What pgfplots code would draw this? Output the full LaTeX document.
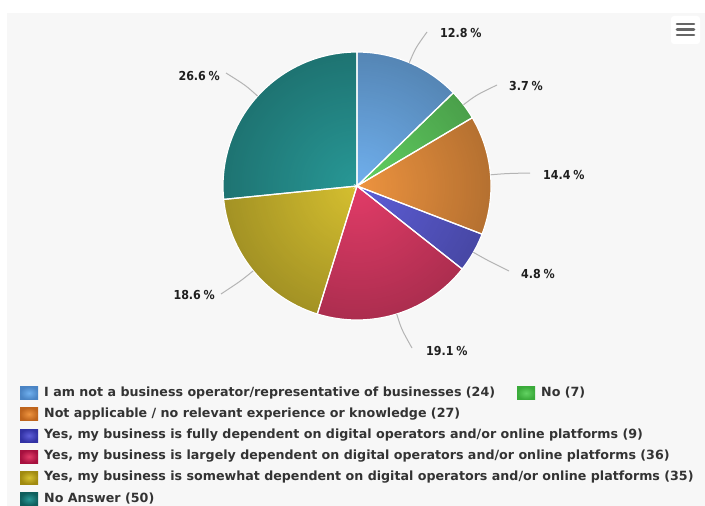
\documentclass[border=0pt]{standalone}
\usepackage{fontspec}
\setmainfont{DejaVu Sans}[BoldFont={DejaVu Sans Bold}]
\newfontfamily\lblfont{DejaVu Sans Condensed Bold}
\usepackage{pgfplots}
\usepackage{pgfplotstable}
\pgfplotsset{compat=1.18}
\usetikzlibrary{fadings}

\definecolor{panel}{HTML}{F7F7F7}
\definecolor{txt}{HTML}{333333}
\definecolor{conn}{HTML}{B4B4B4}
\definecolor{cA}{HTML}{70B0EE}\definecolor{dA}{HTML}{4A84C4}
\definecolor{cB}{HTML}{62D262}\definecolor{dB}{HTML}{3AAA3A}
\definecolor{cC}{HTML}{EE9440}\definecolor{dC}{HTML}{BE641C}
\definecolor{cD}{HTML}{5E5ED8}\definecolor{dD}{HTML}{3232A4}
\definecolor{cE}{HTML}{E23C68}\definecolor{dE}{HTML}{A6103E}
\definecolor{cF}{HTML}{D6C030}\definecolor{dF}{HTML}{A08A10}
\definecolor{cG}{HTML}{289896}\definecolor{dG}{HTML}{0F5E5C}

\tikzfading[name=pieedge, inner color=transparent!100, outer color=transparent!0]

\pgfplotstableread{
count
24
7
27
9
36
35
50
}\piedata

% total
\def\total{0}
\pgfplotsforeachungrouped \i in {0,...,6}{%
  \pgfplotstablegetelem{\i}{count}\of\piedata
  \pgfmathsetmacro\total{\total+\pgfplotsretval}}
% angles (start at 12 o'clock, clockwise)
\def\cum{0}
\pgfplotsforeachungrouped \i in {0,...,6}{%
  \pgfplotstablegetelem{\i}{count}\of\piedata
  \pgfmathsetmacro\aa{90-\cum/\total*360}
  \pgfmathsetmacro\newcum{\cum+\pgfplotsretval}
  \pgfmathsetmacro\bb{90-\newcum/\total*360}
  \pgfmathsetmacro\mm{(\aa+\bb)/2}
  \pgfmathsetmacro\pp{\pgfplotsretval/\total*100}
  \expandafter\xdef\csname sa\i\endcsname{\aa}
  \expandafter\xdef\csname sb\i\endcsname{\bb}
  \expandafter\xdef\csname sm\i\endcsname{\mm}
  \expandafter\xdef\csname pc\i\endcsname{\pp}
  \xdef\cum{\newcum}}

\def\cx{357}\def\cy{186}\def\rr{134}

\newcommand\pieslice[2]{%
  \addplot[fill=#2, draw=none, domain={\csname sb#1\endcsname}:{\csname sa#1\endcsname}, samples=80, variable=\t]
    ({\cx+\rr*cos(\t)},{\cy-\rr*sin(\t)}) -- (axis cs:\cx,\cy) -- cycle;}
\newcommand\pieborder[1]{%
  \addplot[draw=white, line width=1.2bp, domain={\csname sb#1\endcsname}:{\csname sa#1\endcsname}, samples=80, variable=\t]
    ({\cx+\rr*cos(\t)},{\cy-\rr*sin(\t)}) -- (axis cs:\cx,\cy) -- cycle;}
% label: index, end x, end y, anchor, text x, text y
\newcommand\pielabel[6]{%
  \pgfmathsetmacro\ex{\cx+\rr*cos(\csname sm#1\endcsname)}
  \pgfmathsetmacro\ey{\cy-\rr*sin(\csname sm#1\endcsname)}
  \pgfmathsetmacro\kx{\cx+(\rr+16)*cos(\csname sm#1\endcsname)}
  \pgfmathsetmacro\ky{\cy-(\rr+16)*sin(\csname sm#1\endcsname)}
  \edef\tmp{\noexpand\draw[conn, line width=1bp] (axis cs:\ex,\ey) .. controls (axis cs:\kx,\ky) .. (axis cs:#2,#3);}\tmp
  \edef\tmp{\noexpand\node[anchor=#4, inner sep=0pt, font=\noexpand\lblfont\noexpand\fontsize{12.4}{14}\noexpand\selectfont, text=black!88] at (axis cs:#5,#6)
    {\noexpand\pgfmathprintnumber[fixed,precision=1,fixed zerofill,assume math mode=true]{\csname pc#1\endcsname}\noexpand\hspace{0.22em}\noexpand\%};}\tmp}
\newcommand\legitem[5]{%
  \shade[inner color=#3, outer color=#4] (axis cs:#1-1,#2-6.5) rectangle (axis cs:#1+17,#2+6.5);
  \node[anchor=west, inner sep=0pt, text=txt, font=\bfseries\fontsize{12.7}{14}\selectfont] at (axis cs:#1+23,#2) {#5};}

\begin{document}
\begin{tikzpicture}
\begin{axis}[width=705bp, height=506bp, scale only axis,
  xmin=0, xmax=705, ymin=0, ymax=506, y dir=reverse,
  axis lines=none, clip=false]
\fill[white] (axis cs:0,0) rectangle (axis cs:705,506);
\fill[panel] (axis cs:7,13) rectangle (axis cs:705,506);
% menu button
\fill[white, rounded corners=3bp] (axis cs:671,16) rectangle (axis cs:700,44);
\draw[black!60, line width=2.6bp, line cap=round] (axis cs:677,24) -- (axis cs:694,24);
\draw[black!60, line width=2.6bp, line cap=round] (axis cs:677,29.5) -- (axis cs:694,29.5);
\draw[black!60, line width=2.6bp, line cap=round] (axis cs:677,35) -- (axis cs:694,35);

\pieslice{0}{cA}
\pieslice{1}{cB}
\pieslice{2}{cC}
\pieslice{3}{cD}
\pieslice{4}{cE}
\pieslice{5}{cF}
\pieslice{6}{cG}
\fill[black, fill opacity=0.24, path fading=pieedge] (axis cs:\cx,\cy) circle [radius=\rr bp];
\pieborder{0}
\pieborder{1}
\pieborder{2}
\pieborder{3}
\pieborder{4}
\pieborder{5}
\pieborder{6}

\pielabel{0}{427}{32}{west}{440}{33}
\pielabel{1}{497}{85}{west}{509}{86}
\pielabel{2}{530}{173}{west}{543}{175}
\pielabel{3}{509}{271}{west}{521}{274}
\pielabel{4}{412}{348}{west}{426}{351}
\pielabel{5}{221}{294}{east}{215}{295}
\pielabel{6}{226}{73}{east}{220}{76}

\legitem{21}{393}{cA}{dA}{I am not a business operator/representative of businesses (24)}
\legitem{518}{393}{cB}{dB}{No (7)}
\legitem{21}{414}{cC}{dC}{Not applicable / no relevant experience or knowledge (27)}
\legitem{21}{435.5}{cD}{dD}{Yes, my business is fully dependent on digital operators and/or online platforms (9)}
\legitem{21}{456.5}{cE}{dE}{Yes, my business is largely dependent on digital operators and/or online platforms (36)}
\legitem{21}{477.5}{cF}{dF}{Yes, my business is somewhat dependent on digital operators and/or online platforms (35)}
\legitem{21}{499}{cG}{dG}{No Answer (50)}
\end{axis}
\end{tikzpicture}
\end{document}
